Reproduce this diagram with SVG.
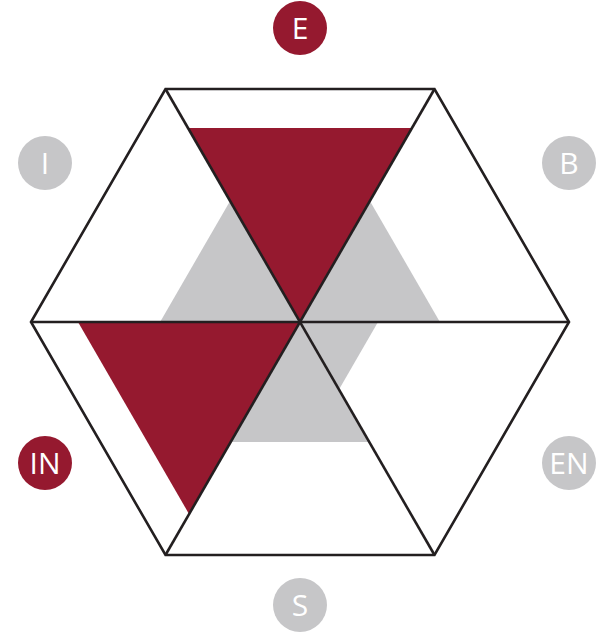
<svg xmlns="http://www.w3.org/2000/svg" width="616" height="635" viewBox="0 0 616 635">
<style>
.gray{fill:#C6C6C8}
.red{fill:#95192F}
.edge{fill:none;stroke:#231F20;stroke-width:2.6;stroke-linejoin:miter}
.c-red{fill:#95192F}
.c-gray{fill:#C6C6C8}
.lbl{font-family:"Open Sans","Liberation Sans",sans-serif;font-size:30px;fill:#FFFFFF;text-anchor:middle}
</style>
<rect width="616" height="635" fill="#FFFFFF"/>
<g id="fills">
<polygon class="gray" points="300,322 160.1,322 230.1,200.9"/>
<polygon class="gray" points="300,322 369.9,200.9 439.9,322"/>
<polygon class="gray" points="300,322 378,322 339,389.6"/>
<polygon class="gray" points="300,322 369.3,442 230.7,442"/>
<polygon class="red" points="300,322 188,127.9 412,127.9"/>
<polygon class="red" points="300,322 78,322 189,514"/>
</g>
<g id="connectors">
<polygon class="edge" points="165.5,89 434.5,89 569,322 434.5,555 165.5,555 31,322"/>
<line class="edge" x1="165.5" y1="89" x2="434.5" y2="555"/>
<line class="edge" x1="434.5" y1="89" x2="165.5" y2="555"/>
<line class="edge" x1="31" y1="322" x2="569" y2="322"/>
</g>
<g id="node-E"><circle class="c-red" cx="300" cy="28" r="27"/><text class="lbl" x="300" y="39">E</text></g>
<g id="node-B"><circle class="c-gray" cx="569" cy="163" r="27"/><text class="lbl" x="569" y="174">B</text></g>
<g id="node-EN"><circle class="c-gray" cx="569" cy="463" r="27"/><text class="lbl" x="569" y="474">EN</text></g>
<g id="node-S"><circle class="c-gray" cx="300" cy="605" r="27"/><text class="lbl" x="300" y="616">S</text></g>
<g id="node-IN"><circle class="c-red" cx="45" cy="463" r="27"/><text class="lbl" x="45" y="474">IN</text></g>
<g id="node-I"><circle class="c-gray" cx="45" cy="163" r="27"/><text class="lbl" x="45" y="174">I</text></g>
</svg>
